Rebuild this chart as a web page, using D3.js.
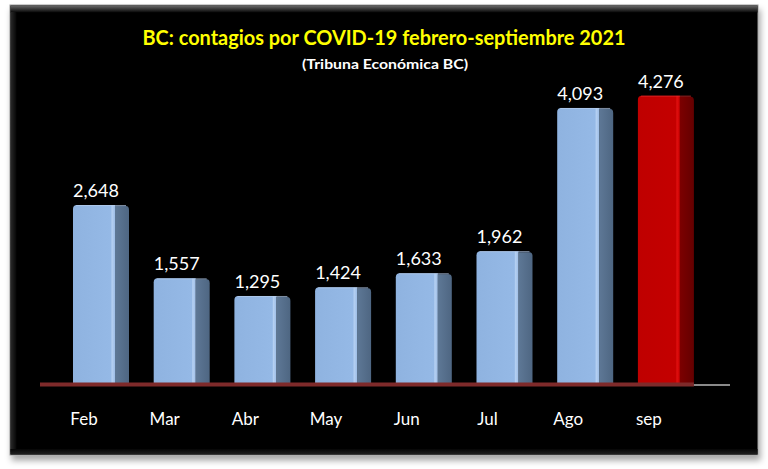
<!DOCTYPE html>
<html><head><meta charset="utf-8">
<script src="https://cdn.jsdelivr.net/npm/d3@7"></script>
<style>html,body{margin:0;padding:0;background:#fff;}svg{display:block;}</style>
</head><body>
<svg id="chart" width="768" height="469"></svg>
<script>
const months = ["Feb","Mar","Abr","May","Jun","Jul","Ago","sep"];
const cases = [2648,1557,1295,1424,1633,1962,4093,4276];
const highlight = ["sep"];
const titleText = "BC: contagios por COVID-19 febrero-septiembre 2021";
const subtitleText = "(Tribuna Económica BC)";

const svg = d3.select("#chart");
const defs = svg.append("defs");
const panel = {x0: 10, y0: 5, x1: 758, y1: 455};

const f = defs.append("filter").attr("id","shadow").attr("x","-5%").attr("y","-5%").attr("width","110%").attr("height","115%");
f.append("feDropShadow").attr("dx",2).attr("dy",5).attr("stdDeviation",3).attr("flood-color","#000").attr("flood-opacity",0.35);

const topGrad = defs.append("linearGradient").attr("id","topGrad").attr("x1",0).attr("y1",0).attr("x2",0).attr("y2",1);
topGrad.append("stop").attr("offset","0%").attr("stop-color","#6a6a6a");
topGrad.append("stop").attr("offset","100%").attr("stop-color","#060606");
const leftGrad = defs.append("linearGradient").attr("id","leftGrad").attr("x1",0).attr("y1",0).attr("x2",1).attr("y2",0);
leftGrad.append("stop").attr("offset","0%").attr("stop-color","#2a2a2a");
leftGrad.append("stop").attr("offset","100%").attr("stop-color","#060606");
const botGrad = defs.append("linearGradient").attr("id","botGrad").attr("x1",0).attr("y1",0).attr("x2",0).attr("y2",1);
botGrad.append("stop").attr("offset","0%").attr("stop-color","#060606");
botGrad.append("stop").attr("offset","100%").attr("stop-color","#202020");

svg.append("rect").attr("x",panel.x0).attr("y",panel.y0)
  .attr("width",panel.x1-panel.x0).attr("height",panel.y1-panel.y0)
  .attr("fill","#060606").attr("stroke","#9a9a9a").attr("stroke-width",1)
  .attr("filter","url(#shadow)");
svg.append("rect").attr("x",panel.x0+0.5).attr("y",panel.y0+0.5)
  .attr("width",panel.x1-panel.x0-1).attr("height",7).attr("fill","url(#topGrad)");
svg.append("rect").attr("x",panel.x0+0.5).attr("y",panel.y0+7)
  .attr("width",6).attr("height",panel.y1-panel.y0-10).attr("fill","url(#leftGrad)");
svg.append("rect").attr("x",panel.x0+0.5).attr("y",panel.y1-6)
  .attr("width",panel.x1-panel.x0-1).attr("height",5.5).attr("fill","url(#botGrad)");

const x = d3.scaleBand().domain(months).range([60.65, 706.25]).paddingInner(0.306).paddingOuter(0.153);
const y = d3.scaleLinear().domain([0, 5000]).range([383, 383 - 336]);
const bw = x.bandwidth();
const frontW = bw * 0.75;

function grad(id, stops){
  const g = defs.append("linearGradient").attr("id",id).attr("x1",0).attr("y1",0).attr("x2",1).attr("y2",0);
  stops.forEach(s=>g.append("stop").attr("offset",s[0]).attr("stop-color",s[1]));
}
grad("blueFront",[["0%","#8fb3e0"],["90%","#95b9e6"],["93%","#b5d0f2"],["100%","#9dbde6"]]);
grad("blueSide",[["0%","#5e7896"],["100%","#4e6682"]]);
grad("redFront",[["0%","#bf0000"],["90%","#c40000"],["93%","#e01010"],["100%","#c80000"]]);
grad("redSide",[["0%","#7c0000"],["100%","#640000"]]);

const bars = svg.append("g").selectAll("g").data(months).join("g");
bars.each(function(m,i){
  const g = d3.select(this);
  const isHi = highlight.includes(m);
  const x0 = x(m), top = y(cases[i]), bot = y(0);
  g.append("path")
    .attr("d", `M${x0+frontW},${top+1} L${x0+bw-3},${top+1} Q${x0+bw},${top+1} ${x0+bw},${top+5} L${x0+bw},${bot} L${x0+frontW},${bot} Z`)
    .attr("fill", isHi ? "url(#redSide)" : "url(#blueSide)");
  g.append("path")
    .attr("d", `M${x0},${bot} L${x0},${top+4} Q${x0},${top} ${x0+4},${top} L${x0+frontW},${top} L${x0+frontW},${bot} Z`)
    .attr("fill", isHi ? "url(#redFront)" : "url(#blueFront)");
  g.append("line").attr("x1",x0+3).attr("x2",x0+bw-3).attr("y1",top+0.5).attr("y2",top+0.5)
    .attr("stroke", isHi ? "#e03030" : "#b8cfee").attr("stroke-width",1).attr("opacity",0.7);
});

svg.append("line").attr("x1",40).attr("x2",x("sep")+bw).attr("y1",384.5).attr("y2",384.5)
  .attr("stroke","#7e2a2a").attr("stroke-width",4);
svg.append("line").attr("x1",x("sep")+bw).attr("x2",730).attr("y1",385).attr("y2",385)
  .attr("stroke","#8a8a8a").attr("stroke-width",2);

const font = "Lato, 'Open Sans', sans-serif";

svg.append("g").selectAll("text").data(months).join("text")
  .attr("x", m => x(m) + 23)
  .attr("y", (m,i) => y(cases[i]) - 8)
  .attr("text-anchor","middle")
  .attr("font-family",font).attr("font-size",18).attr("fill","#ffffff")
  .text((m,i) => d3.format(",")(cases[i]));

svg.append("g").selectAll("text").data(months).join("text")
  .attr("x", m => x(m) + 11)
  .attr("y", 425)
  .attr("text-anchor","middle")
  .attr("font-family",font).attr("font-size",17).attr("fill","#ffffff")
  .text(m => m);

svg.append("text").attr("x",384).attr("y",45).attr("text-anchor","middle")
  .attr("font-family",font).attr("font-weight","bold").attr("font-size",20)
  .attr("fill","#ffff00").attr("textLength",483).attr("lengthAdjust","spacingAndGlyphs")
  .text(titleText);
svg.append("text").attr("x",385).attr("y",69).attr("text-anchor","middle")
  .attr("font-family",font).attr("font-weight","bold").attr("font-size",14)
  .attr("fill","#ffffff").attr("textLength",166).attr("lengthAdjust","spacingAndGlyphs")
  .text(subtitleText);
</script>
</body></html>
